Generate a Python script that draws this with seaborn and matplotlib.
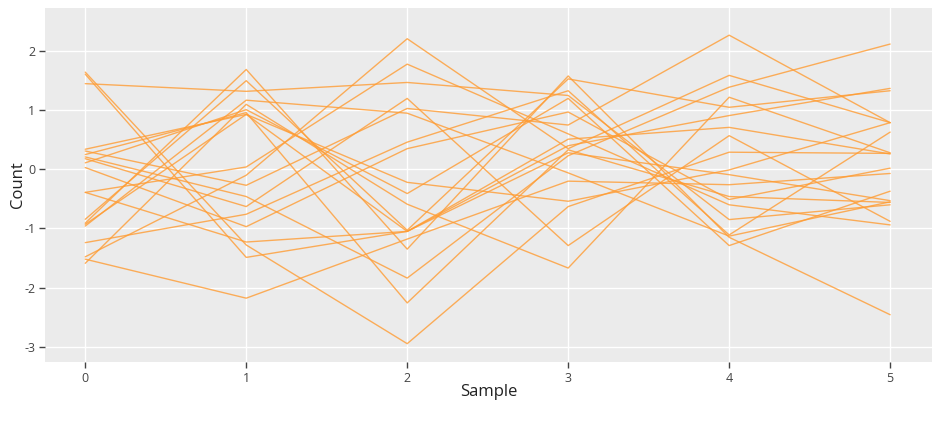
import pandas as pd
import seaborn as sns
import matplotlib
matplotlib.use("Agg")
import matplotlib.pyplot as plt

# values, one list per trace (samples 0..5)
samples = [0, 1, 2, 3, 4, 5]
trace_01 = [1.645, -1.28, -2.95, -0.63, 0.29, 0.27]
trace_02 = [1.61, -1.49, -1.05, 0.40, 0.91, 1.37]
trace_03 = [1.45, 1.32, 1.47, 1.25, -0.85, -0.60]
trace_04 = [0.34, 0.93, -0.22, -0.54, -0.01, 0.79]
trace_05 = [0.31, -0.27, 1.03, 0.75, 2.27, 0.79]
trace_06 = [0.25, 0.96, -2.26, 0.33, -0.46, -0.56]
trace_07 = [0.21, -0.46, -1.84, 0.23, 1.39, 2.12]
trace_08 = [0.18, -0.63, 1.20, -1.29, 0.57, -0.88]
trace_09 = [0.11, 1.01, -0.41, 1.20, -1.29, -0.37]
trace_10 = [0.03, -0.97, 0.35, 0.97, -0.51, 0.02]
trace_11 = [-0.39, 0.04, 1.78, 0.60, -0.60, -0.94]
trace_12 = [-0.39, -1.23, -1.05, 0.28, -0.09, -0.53]
trace_13 = [-0.845, 1.50, -1.03, 1.53, 1.05, 1.33]
trace_14 = [-0.91, 1.69, -1.35, 1.58, -1.15, -2.46]
trace_15 = [-0.96, 1.17, 0.95, -0.06, -1.13, -0.55]
trace_16 = [-1.24, -0.76, 0.46, 1.33, -1.11, 0.63]
trace_17 = [-1.48, -0.10, 2.21, 0.35, 1.59, 0.79]
trace_18 = [-1.52, -2.18, -1.18, -0.20, -0.26, -0.07]
trace_19 = [-1.59, 1.10, -0.59, -1.67, 1.22, 0.28]
trace_20 = [-0.93, 0.93, -1.05, 0.51, 0.71, 0.26]

traces = [trace_01, trace_02, trace_03, trace_04, trace_05, trace_06, trace_07,
          trace_08, trace_09, trace_10, trace_11, trace_12, trace_13, trace_14,
          trace_15, trace_16, trace_17, trace_18, trace_19, trace_20]

rows = []
for i, tr in enumerate(traces):
    for s, v in zip(samples, tr):
        rows.append({"trace": i, "Sample": s, "Count": v})
df = pd.DataFrame(rows)

sns.set_theme(style="darkgrid", rc={
    "axes.facecolor": "#ebebeb",
    "grid.color": "white",
    "grid.linewidth": 1.0,
    "axes.edgecolor": "#ebebeb",
})
plt.rcParams["font.family"] = ["Open Sans", "DejaVu Sans"]
plt.rcParams["axes.unicode_minus"] = False

fig = plt.figure(figsize=(9.44, 4.23), dpi=100)
ax = fig.add_axes([45 / 944, 1 - 362 / 423, (932 - 45) / 944, (362 - 8) / 423])

sns.lineplot(data=df, x="Sample", y="Count", units="trace", estimator=None,
             color="#ff9c33", alpha=0.8, linewidth=1.0, ax=ax, legend=False)

ax.set_xlim(-0.25, 5.26)
ax.set_ylim(-3.26, 2.73)
ax.set_xticks(samples)
ax.set_yticks([-3, -2, -1, 0, 1, 2])
ax.tick_params(axis="both", labelsize=9, labelcolor="#444444", colors="#444444",
               length=4, width=1, direction="out", bottom=True, left=True, pad=3)
ax.set_xlabel("Sample", fontsize=12, color="#222222")
ax.set_ylabel("Count", fontsize=12, color="#222222")
ax.xaxis.set_label_coords(0.5, -0.063)
ax.yaxis.set_label_coords(-0.021, 0.5)
for sp in ax.spines.values():
    sp.set_visible(False)

fig.savefig("out.png", dpi=100)
plt.close("all")
